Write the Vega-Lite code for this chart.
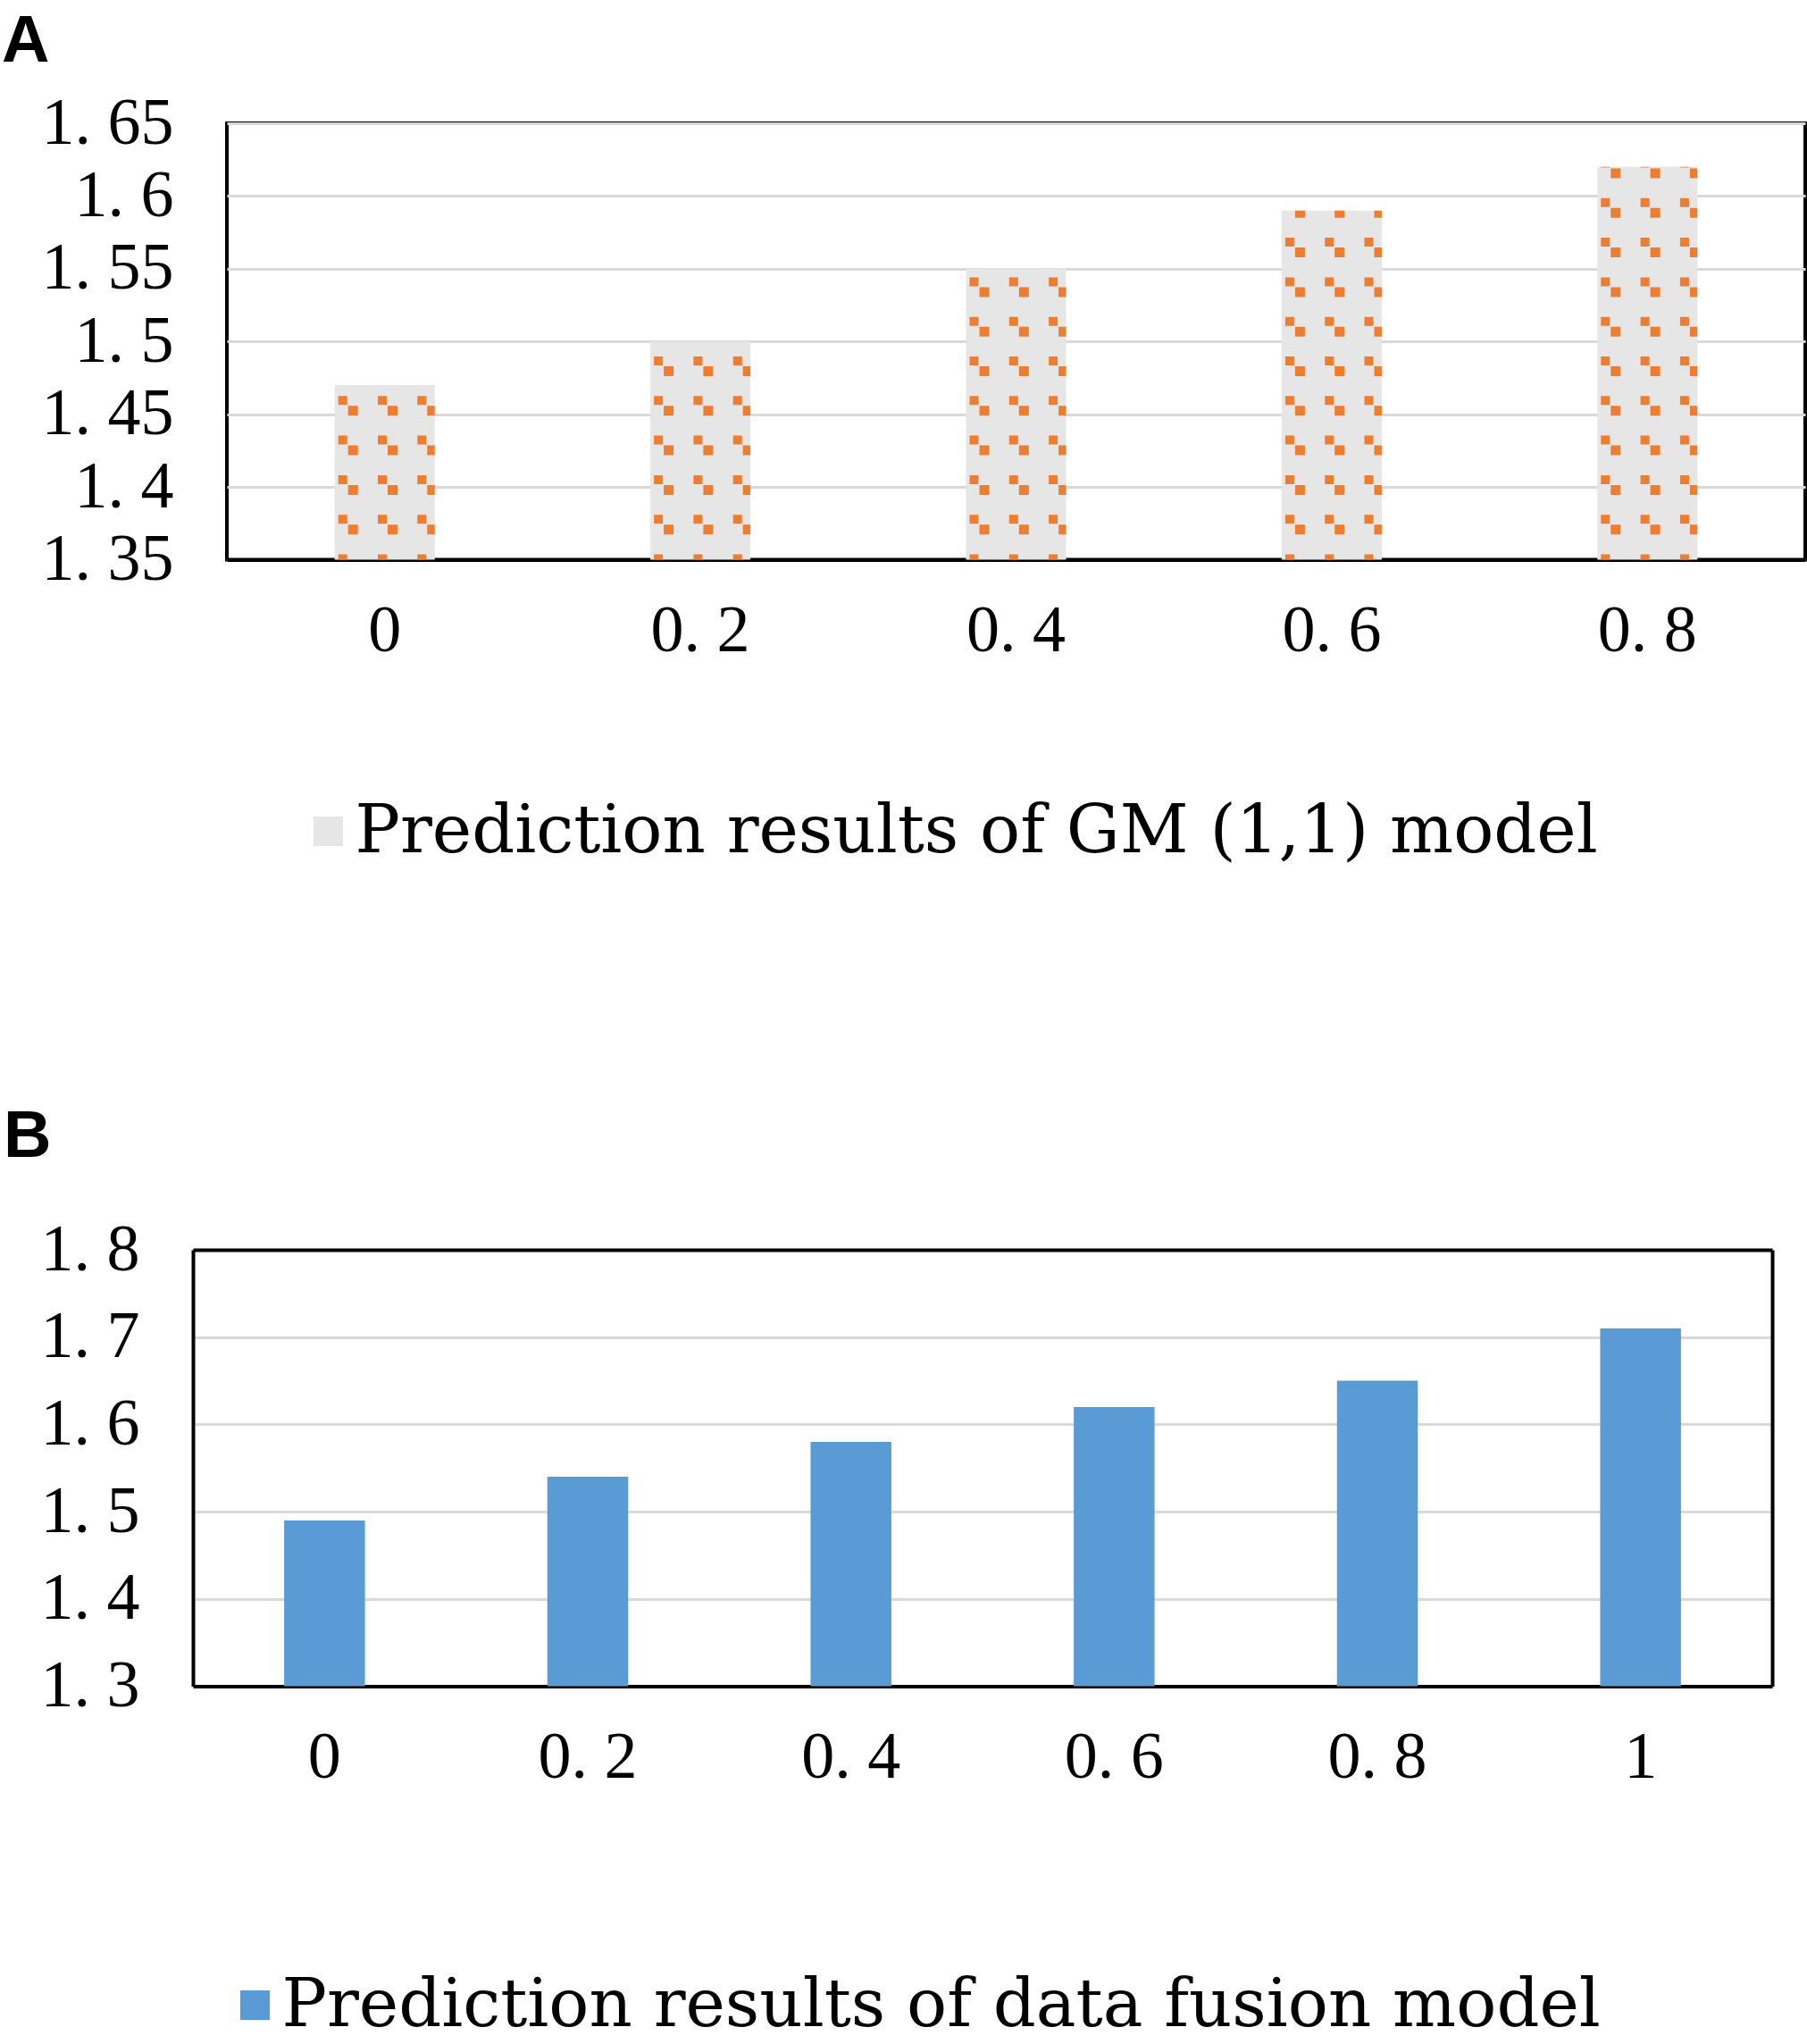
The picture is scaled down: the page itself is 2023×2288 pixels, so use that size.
{
  "$schema": "https://vega.github.io/schema/vega-lite/v6.json",
  "background": "white",
  "padding": {"top": 7, "left": 0, "right": 0, "bottom": 0},
  "config": {
    "view": {"stroke": "black", "strokeWidth": 4},
    "axis": {"labelFont": "Liberation Serif", "labelFontSize": 74, "labelColor": "black", "ticks": false, "domain": false, "title": null},
    "axisY": {"grid": true, "gridColor": "#D9D9D9", "gridWidth": 3, "labelPadding": 60},
    "axisX": {"grid": false, "labelAngle": 0, "labelPadding": 44, "domain": true, "domainColor": "black", "domainWidth": 4, "zindex": 1},
    "legend": {"labelFont": "DejaVu Serif", "labelFontSize": 75, "labelColor": "black", "labelLimit": 3000, "symbolType": "square", "symbolSize": 1100, "labelOffset": -7.5, "symbolStrokeWidth": 0},
    "title": {"anchor": "start", "frame": "group", "font": "Liberation Sans", "fontSize": 74, "fontWeight": "bold", "color": "black", "baseline": "alphabetic"}
  },
  "spacing": 264,
  "resolve": {"scale": {"color": "independent"}},
  "vconcat": [
    {
      "width": 1767,
      "height": 488.5,
      "title": {"text": "A", "dx": -252, "offset": 16.5},
      "data": {"values": [
        {"x": "0", "v": 1.47},
        {"x": "0.2", "v": 1.50},
        {"x": "0.4", "v": 1.55},
        {"x": "0.6", "v": 1.59},
        {"x": "0.8", "v": 1.62}
      ]},
      "encoding": {
        "x": {"field": "x", "type": "ordinal", "scale": {"paddingInner": 0.683, "paddingOuter": 0.3415}, "axis": {"labelExpr": "replace(datum.label, '.', '. ')"}},
        "y": {"field": "v", "type": "quantitative", "scale": {"domain": [1.35, 1.65], "zero": false, "nice": false}, "axis": {"values": [1.35, 1.4, 1.45, 1.5, 1.55, 1.6, 1.65], "labelExpr": "replace(toString(datum.value), '.', '. ')"}},
        "y2": {"datum": 1.35}
      },
      "layer": [
        {"mark": {"type": "bar"}, "encoding": {"color": {"datum": "Prediction results of GM (1,1) model", "type": "nominal", "scale": {"range": ["#E6E6E6"]}, "legend": {"title": null, "orient": "none", "legendX": 76, "legendY": 755}}}},
        {"mark": {"type": "rule", "color": "#ED7D31", "strokeWidth": 10, "strokeDash": [10, 34.3], "strokeDashOffset": {"expr": "6 - (datum.v - 1.35) / 0.3 * 488.5"}, "xOffset": -47}, "encoding": {}},
        {"mark": {"type": "rule", "color": "#ED7D31", "strokeWidth": 10, "strokeDash": [10, 34.3], "strokeDashOffset": {"expr": "6 - (datum.v - 1.35) / 0.3 * 488.5"}, "xOffset": -2.7}, "encoding": {}},
        {"mark": {"type": "rule", "color": "#ED7D31", "strokeWidth": 10, "strokeDash": [10, 34.3], "strokeDashOffset": {"expr": "6 - (datum.v - 1.35) / 0.3 * 488.5"}, "xOffset": 41.6}, "encoding": {}},
        {"mark": {"type": "rule", "color": "#ED7D31", "strokeWidth": 11, "strokeDash": [11, 33.3], "strokeDashOffset": {"expr": "39.3 - (datum.v - 1.35) / 0.3 * 488.5"}, "xOffset": -35.5}, "encoding": {}},
        {"mark": {"type": "rule", "color": "#ED7D31", "strokeWidth": 11, "strokeDash": [11, 33.3], "strokeDashOffset": {"expr": "39.3 - (datum.v - 1.35) / 0.3 * 488.5"}, "xOffset": 8.8}, "encoding": {}},
        {"mark": {"type": "rule", "color": "#ED7D31", "strokeWidth": 8.4, "strokeDash": [11, 33.3], "strokeDashOffset": {"expr": "39.3 - (datum.v - 1.35) / 0.3 * 488.5"}, "xOffset": 51.8}, "encoding": {}}
      ]
    },
    {
      "width": 1730,
      "height": 488.6,
      "view": {"stroke": null},
      "title": {"text": "B", "dx": -250, "offset": 51.4},
      "data": {"values": [
        {"x": "0", "v": 1.49},
        {"x": "0.2", "v": 1.54},
        {"x": "0.4", "v": 1.58},
        {"x": "0.6", "v": 1.62},
        {"x": "0.8", "v": 1.65},
        {"x": "1", "v": 1.71}
      ]},
      "encoding": {
        "x": {"field": "x", "type": "ordinal", "scale": {"range": [-38, 1730], "paddingInner": 0.693, "paddingOuter": 0.3465}, "axis": {"labelExpr": "replace(datum.label, '.', '. ')"}},
        "y": {"field": "v", "type": "quantitative", "scale": {"domain": [1.3, 1.8], "zero": false, "nice": false}, "axis": {"values": [1.3, 1.4, 1.5, 1.6, 1.7, 1.8], "labelExpr": "replace(toString(datum.value), '.', '. ')", "offset": 38, "domain": true, "domainColor": "black", "domainWidth": 4}},
        "y2": {"datum": 1.3}
      },
      "layer": [
        {"mark": {"type": "bar"}, "encoding": {"color": {"datum": "Prediction results of data fusion model", "type": "nominal", "scale": {"range": ["#5B9BD5"]}, "legend": {"title": null, "orient": "none", "legendX": -6, "legendY": 808}}}},
        {"mark": {"type": "bar", "opacity": 0}, "encoding": {
          "x": {"field": "x", "type": "ordinal", "axis": {"orient": "top", "labels": false, "grid": false, "domain": true, "domainColor": "black", "domainWidth": 4}},
          "y": {"field": "v", "type": "quantitative", "axis": {"orient": "right", "labels": false, "grid": false, "domain": true, "domainColor": "black", "domainWidth": 4}}
        }}
      ],
      "resolve": {"axis": {"x": "independent", "y": "independent"}}
    }
  ]
}
